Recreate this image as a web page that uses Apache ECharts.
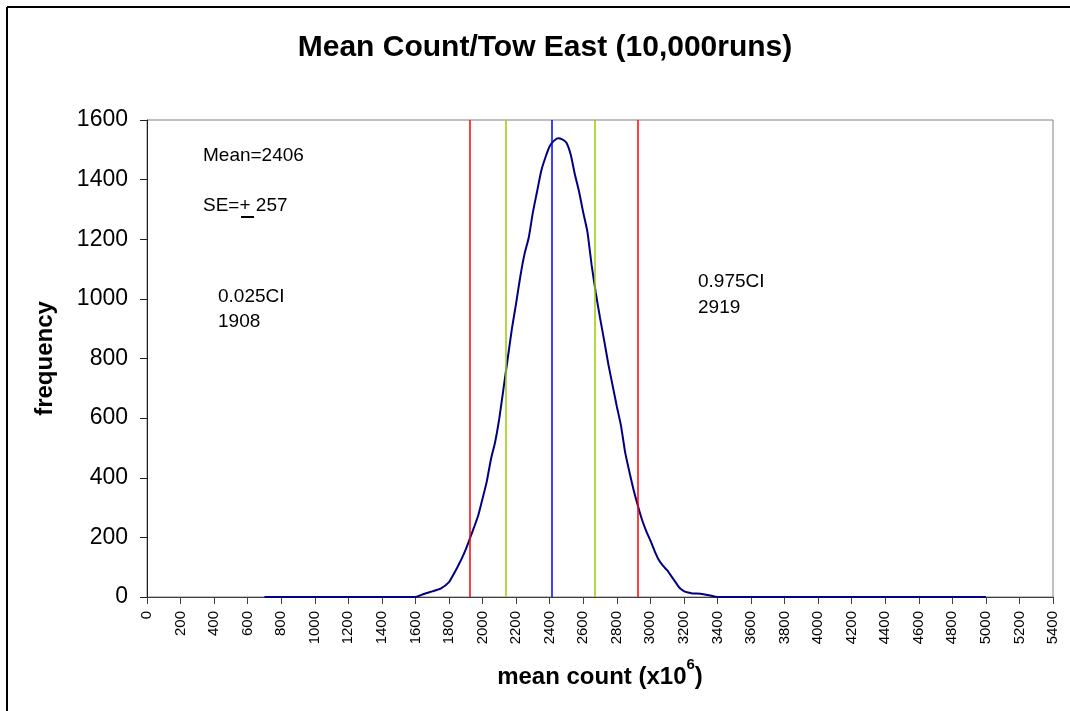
<!DOCTYPE html>
<html>
<head>
<meta charset="utf-8">
<script src="https://cdn.jsdelivr.net/npm/echarts@6/dist/echarts.min.js"></script>
<style>
html,body{margin:0;padding:0;background:#fff;}
#chart{width:1070px;height:711px;}
</style>
</head>
<body>
<div id="chart"></div>
<script>
// ---- data ----
const countBins = [700,800,900,1000,1100,1200,1300,1400,1500,1600,1650,1700,1750,1800,1825,1850,1875,1900,1925,1950,1975,2000,2025,2050,2075,2100,2125,2150,2175,2200,2225,2250,2275,2300,2325,2350,2375,2400,2425,2450,2475,2500,2525,2550,2575,2600,2625,2650,2675,2700,2725,2750,2775,2800,2825,2850,2875,2900,2925,2950,2975,3000,3025,3050,3075,3100,3125,3150,3175,3200,3225,3250,3300,3350,3400,3500,3600,3700,3800,3900,4000,4100,4200,4300,4400,4500,4600,4700,4800,4900,5000];
const frequencies = [0,0,0,0,0,0,0,0,0,0,10,19,28,50,74,100,128,160,197,235,275,330,387,462,520,600,700,800,900,985,1075,1150,1205,1290,1360,1430,1475,1512,1530,1539,1535,1524,1485,1418,1360,1290,1225,1114,1020,937,860,780,710,640,575,485,420,360,308,260,222,190,155,125,105,90,70,50,30,20,15,12,11,6,0,0,0,0,0,0,0,0,0,0,0,0,0,0,0,0,0];
const refLineValues = [1922, 2139, 2414, 2670, 2925];
const refLineNames = ['0.025CI', 'lower SE', 'Mean', 'upper SE', '0.975CI'];
const refLineColors = ['#ff0000', '#99cc00', '#0000ff', '#99cc00', '#ff0000'];
const xTickMin = 0, xTickMax = 5400, xTickStep = 200;
const yTickMin = 0, yTickMax = 1600, yTickStep = 200;
const titleText = 'Mean Count/Tow East (10,000runs)';
const notes = ['Mean=2406', 'SE=', '+', ' 257', '0.025CI', '1908', '0.975CI', '2919'];

const FONT = 'Arial, "Liberation Sans", sans-serif';
const chart = echarts.init(document.getElementById('chart'), null, {renderer: 'canvas'});

const curve = countBins.map((x, i) => [x, frequencies[i]]);
const plain = v => String(v);

chart.setOption({
  backgroundColor: '#ffffff',
  animation: false,
  title: {
    text: titleText,
    left: 545, top: 31, textAlign: 'center', padding: 0,
    textStyle: {fontFamily: FONT, fontSize: 30, fontWeight: 'bold', color: '#000', lineHeight: 34}
  },
  grid: {left: 147, top: 120, width: 906, height: 477, show: true, borderColor: '#808080', borderWidth: 1, backgroundColor: '#ffffff'},
  xAxis: {
    type: 'value', min: xTickMin, max: xTickMax, interval: xTickStep,
    name: '{a|mean count (x10}{s|6}{a|)}',
    nameLocation: 'middle', nameGap: 60,
    nameTextStyle: {
      rich: {
        a: {fontFamily: FONT, fontSize: 24, fontWeight: 'bold', color: '#000', lineHeight: 40},
        s: {fontFamily: FONT, fontSize: 15, fontWeight: 'bold', color: '#000', verticalAlign: 'top', lineHeight: 16}
      }
    },
    axisLine: {show: true, lineStyle: {color: '#404040', width: 1}},
    axisTick: {show: true, inside: false, length: 7, lineStyle: {color: '#404040'}},
    axisLabel: {rotate: 90, margin: 14, fontFamily: FONT, fontSize: 15, color: '#000', showMinLabel: true, showMaxLabel: true, formatter: plain},
    splitLine: {show: false}
  },
  yAxis: {
    type: 'value', min: yTickMin, max: yTickMax, interval: yTickStep,
    name: 'frequency', nameLocation: 'middle', nameGap: 90, nameRotate: 90,
    nameTextStyle: {fontFamily: FONT, fontSize: 24, fontWeight: 'bold', color: '#000'},
    axisLine: {show: true, lineStyle: {color: '#202020', width: 1}},
    axisTick: {show: true, inside: false, length: 7, lineStyle: {color: '#202020'}},
    axisLabel: {margin: 19, fontFamily: FONT, fontSize: 23, color: '#000', formatter: plain},
    splitLine: {show: false}
  },
  series: [
    {
      type: 'line', name: 'frequency', data: curve, showSymbol: false, smooth: 0.2,
      lineStyle: {color: '#000080', width: 2}, z: 3,
      markLine: {
        silent: true, symbol: ['none', 'none'], label: {show: false},
        data: refLineValues.map((v, i) => ({name: refLineNames[i], xAxis: v, lineStyle: {color: refLineColors[i], width: 1.5, type: 'solid'}}))
      }
    }
  ],
  graphic: [
    {type: 'line', shape: {x1: 7, y1: 7, x2: 1070, y2: 7}, style: {stroke: '#000', lineWidth: 2}},
    {type: 'line', shape: {x1: 7, y1: 7, x2: 7, y2: 711}, style: {stroke: '#000', lineWidth: 2}},
    {type: 'text', left: 203, top: 146, style: {text: notes[0], font: '19px ' + FONT, fill: '#000'}},
    {type: 'text', left: 203, top: 196, style: {text: notes[1] + notes[2] + notes[3], font: '19px ' + FONT, fill: '#000'}},
    {type: 'line', shape: {x1: 241, y1: 217, x2: 254, y2: 217}, style: {stroke: '#000', lineWidth: 2}},
    {type: 'text', left: 218, top: 287, style: {text: notes[4], font: '19px ' + FONT, fill: '#000'}},
    {type: 'text', left: 218, top: 312, style: {text: notes[5], font: '19px ' + FONT, fill: '#000'}},
    {type: 'text', left: 698, top: 272, style: {text: notes[6], font: '19px ' + FONT, fill: '#000'}},
    {type: 'text', left: 698, top: 298, style: {text: notes[7], font: '19px ' + FONT, fill: '#000'}}
  ]
});
</script>
</body>
</html>
